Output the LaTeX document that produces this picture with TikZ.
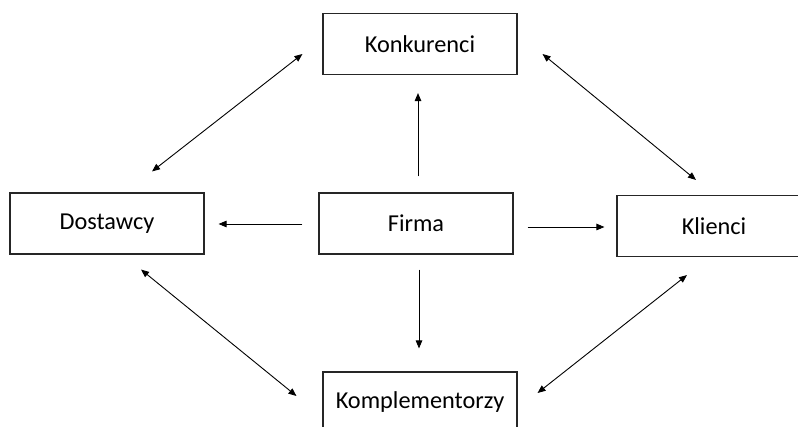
\documentclass[tikz,border=0pt]{standalone}
\usepackage{fontspec}
\setmainfont{Carlito}
\usetikzlibrary{arrows.meta,calc}
\begin{document}
\begin{tikzpicture}[x=1pt,y=-1pt,
  box/.style={draw=black!85, line width=1.1pt, rectangle, inner sep=0pt,
    minimum width=194pt, minimum height=61pt,
    font=\fontsize{24.3}{29}\selectfont},
  link/.style={line width=0.9pt, {Triangle[length=8pt,width=6.5pt]}-{Triangle[length=8pt,width=6.5pt]}},
  flow/.style={line width=0.9pt, -{Triangle[length=8pt,width=6.5pt]}}]
\path[use as bounding box, clip] (0,0) rectangle (798,427);
\fill[white] (0,0) rectangle (798,427);

% actors around the firm
\node[box] (konk)  at (420,44)    {Konkurenci};
\node[box] (dost)  at (107,223.5) {Dostawcy};
\node[box] (firma) at (416,223.5) {Firma};
\node[box] (kli)   at (714,226)   {Klienci};
\node[box] (kompl) at (420,402.5) {Komplementorzy};

% mutual relations on the outer ring
\draw[link] ($(konk.west)+(-20,10)$)   -- ($(dost.north)+(45,-21)$);
\draw[link] ($(konk.east)+(25,10)$)    -- ($(kli.north)+(-18,-15)$);
\draw[link] ($(dost.south)+(34,15)$)   -- ($(kompl.west)+(-26,-6.5)$);
\draw[link] ($(kompl.east)+(20,-9.5)$) -- ($(kli.south)+(-27,18)$);

% influence of the firm
\draw[flow] ($(firma.north)+(2,-16)$) -- ($(konk.south)+(-2,18)$);
\draw[flow] ($(firma.south)+(3,15)$)  -- ($(kompl.north)+(-1,-23)$);
\draw[flow] ($(firma.west)+(-16,0.5)$) -- ($(dost.east)+(14,0.5)$);
\draw[flow] ($(firma.east)+(14,3.5)$) -- ($(kli.west)+(-12,1)$);
\end{tikzpicture}
\end{document}
